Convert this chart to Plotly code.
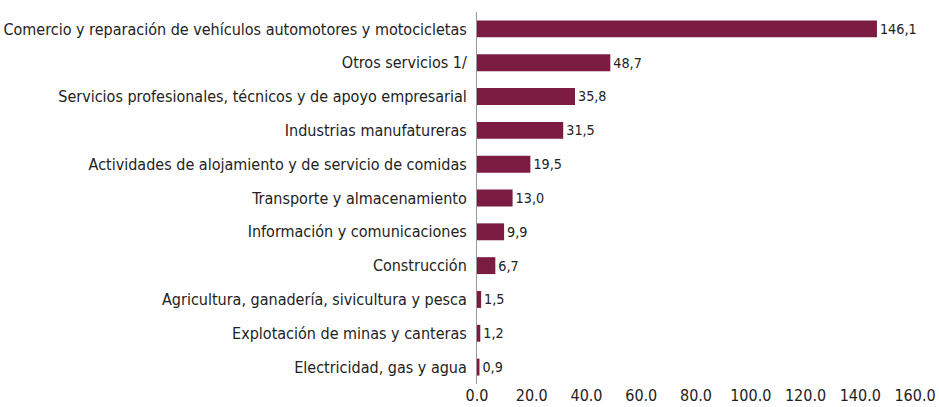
import plotly.graph_objects as go

categories = [
    "Comercio y reparación de vehículos automotores y motocicletas",
    "Otros servicios 1/",
    "Servicios profesionales, técnicos y de apoyo empresarial",
    "Industrias manufatureras",
    "Actividades de alojamiento y de servicio de comidas",
    "Transporte y almacenamiento",
    "Información y comunicaciones",
    "Construcción",
    "Agricultura, ganadería, sivicultura y pesca",
    "Explotación de minas y canteras",
    "Electricidad, gas y agua",
]
values = [146.1, 48.7, 35.8, 31.5, 19.5, 13.0, 9.9, 6.7, 1.5, 1.2, 0.9]
tick_vals = [0, 20, 40, 60, 80, 100, 120, 140, 160]
tick_text = ["0.0", "20.0", "40.0", "60.0", "80.0", "100.0", "120.0", "140.0", "160.0"]

labels = [f"{v:.1f}".replace(".", ",") for v in values]
FONT = "Liberation Sans Narrow, DejaVu Sans Condensed, Arial Narrow, sans-serif"

fig = go.Figure(go.Bar(
    x=values, y=categories, orientation="h",
    marker=dict(color="#7c1c42", line=dict(width=0)),
    width=0.5,
    text=labels, textposition="outside", cliponaxis=False,
    textfont=dict(family=FONT, size=16, color="#222222"),
    hoverinfo="skip",
))

fig.update_layout(
    width=939, height=407,
    margin=dict(l=477, r=24, t=12, b=23),
    plot_bgcolor="white", paper_bgcolor="white",
    showlegend=False,
    font=dict(family=FONT, size=16, color="#222222"),
    xaxis=dict(range=[0, 160], tickvals=tick_vals, ticktext=tick_text,
               showgrid=False, zeroline=False, showline=False,
               ticks="", tickfont=dict(size=16), automargin=False),
    yaxis=dict(autorange="reversed", showgrid=False, zeroline=False,
               showline=True, linecolor="#9a9a9a", linewidth=1,
               ticks="", ticklabelstandoff=6, tickfont=dict(size=16),
               automargin=False),
)

fig.write_html(
    "out.html",
    config={"displayModeBar": False},
    post_script="document.body.style.margin='0';document.body.style.overflow='hidden';",
)
